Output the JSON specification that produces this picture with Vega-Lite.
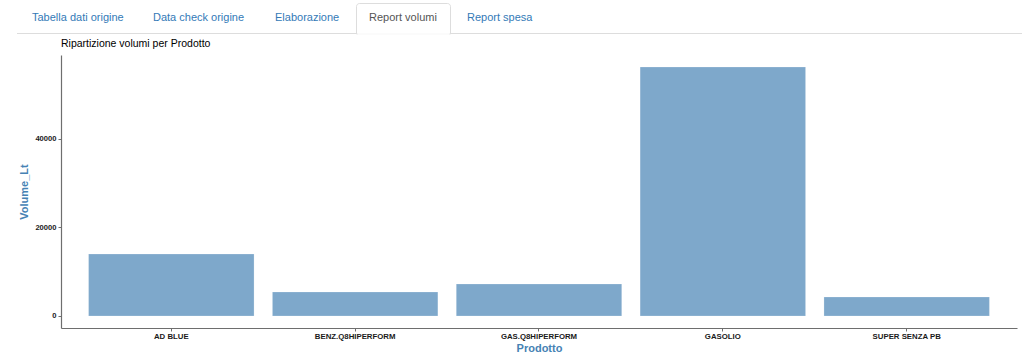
{
  "$schema": "https://vega.github.io/schema/vega-lite/v6.json",
  "autosize": {"type": "none"},
  "width": 956,
  "height": 273,
  "padding": {"left": 61, "top": 55, "right": 5, "bottom": 35},
  "background": "white",
  "config": {"view": {"stroke": null}, "font": "Liberation Sans"},
  "datasets": {
    "volumi": [
      {"Prodotto": "AD BLUE", "Volume_Lt": 14011},
      {"Prodotto": "BENZ.Q8HIPERFORM", "Volume_Lt": 5424},
      {"Prodotto": "GAS.Q8HIPERFORM", "Volume_Lt": 7232},
      {"Prodotto": "GASOLIO", "Volume_Lt": 56271},
      {"Prodotto": "SUPER SENZA PB", "Volume_Lt": 4294}
    ],
    "tabs": [
      {"tab": "Tabella dati origine", "px": 32, "active": false},
      {"tab": "Data check origine", "px": 153, "active": false},
      {"tab": "Elaborazione", "px": 275, "active": false},
      {"tab": "Report volumi", "px": 369, "active": true},
      {"tab": "Report spesa", "px": 467, "active": false}
    ],
    "titolo": [{"t": "Ripartizione volumi per Prodotto"}]
  },
  "resolve": {"scale": {"x": "independent", "y": "independent"}, "axis": {"x": "independent", "y": "independent"}},
  "layer": [
    {
      "data": {"name": "volumi"},
      "mark": {"type": "bar", "color": "#7ea8cb", "stroke": "#ffffff", "strokeOpacity": 0.35, "strokeWidth": 0.6},
      "encoding": {
        "x": {
          "field": "Prodotto", "type": "nominal", "sort": null,
          "scale": {"paddingInner": 0.1, "paddingOuter": 0.15},
          "axis": {"title": "Prodotto", "titleColor": "steelblue", "titleFontSize": 11, "titleFontWeight": "bold", "titleFont": "Liberation Sans", "titlePadding": 3,
                   "labelAngle": 0, "labelFontSize": 7.8, "labelFontWeight": "bold", "labelColor": "#1a1a1a", "labelFont": "Liberation Sans", "labelPadding": 1,
                   "domainColor": "#6e6e6e", "domainWidth": 1.2, "tickColor": "#6e6e6e", "tickSize": 3, "tickWidth": 1, "grid": false}
        },
        "y": {
          "field": "Volume_Lt", "type": "quantitative",
          "scale": {"domain": [-2712, 58983], "nice": false, "zero": false},
          "axis": {"title": "Volume_Lt", "titleColor": "steelblue", "titleFontSize": 11, "titleFontWeight": "bold", "titleFont": "Liberation Sans", "titlePadding": 5,
                   "values": [0, 20000, 40000], "format": "d", "labelFontSize": 7.6, "labelFontWeight": "bold", "labelColor": "#1a1a1a", "labelFont": "Liberation Sans", "labelPadding": 2,
                   "domainColor": "#6e6e6e", "domainWidth": 1.2, "tickColor": "#6e6e6e", "tickSize": 3, "tickWidth": 1, "grid": false}
        },
        "y2": {"datum": 0}
      }
    },
    {
      "data": {"values": [{}]},
      "mark": {"type": "rule", "color": "#dddddd", "strokeWidth": 1, "clip": false},
      "encoding": {
        "x": {"datum": 17, "type": "quantitative", "scale": {"domain": [61, 1017], "nice": false, "zero": false}, "axis": null},
        "x2": {"datum": 1022},
        "y": {"datum": 33.5, "type": "quantitative", "scale": {"domain": [55, 328], "reverse": true, "nice": false, "zero": false}, "axis": null}
      }
    },
    {
      "data": {"values": [{}]},
      "mark": {"type": "rect", "fill": "white", "stroke": "#dddddd", "strokeWidth": 1, "clip": false, "cornerRadiusTopLeft": 3, "cornerRadiusTopRight": 3},
      "encoding": {
        "x": {"datum": 356.5, "type": "quantitative", "scale": {"domain": [61, 1017], "nice": false, "zero": false}, "axis": null},
        "x2": {"datum": 450.5},
        "y": {"datum": 3.5, "type": "quantitative", "scale": {"domain": [55, 328], "reverse": true, "nice": false, "zero": false}, "axis": null},
        "y2": {"datum": 34}
      }
    },
    {
      "data": {"values": [{}]},
      "mark": {"type": "rule", "color": "white", "strokeWidth": 1.5, "clip": false},
      "encoding": {
        "x": {"datum": 357.5, "type": "quantitative", "scale": {"domain": [61, 1017], "nice": false, "zero": false}, "axis": null},
        "x2": {"datum": 449.5},
        "y": {"datum": 34, "type": "quantitative", "scale": {"domain": [55, 328], "reverse": true, "nice": false, "zero": false}, "axis": null}
      }
    },
    {
      "data": {"name": "tabs"},
      "mark": {"type": "text", "align": "left", "baseline": "middle", "fontSize": 11, "font": "Liberation Sans", "clip": false},
      "encoding": {
        "x": {"field": "px", "type": "quantitative", "scale": {"domain": [61, 1017], "nice": false, "zero": false}, "axis": null},
        "y": {"datum": 18, "type": "quantitative", "scale": {"domain": [55, 328], "reverse": true, "nice": false, "zero": false}, "axis": null},
        "text": {"field": "tab"},
        "color": {"condition": {"test": "datum.active", "value": "#555555"}, "value": "#337ab7"}
      }
    },
    {
      "data": {"name": "titolo"},
      "mark": {"type": "text", "align": "left", "baseline": "middle", "fontSize": 10.5, "font": "Liberation Sans", "color": "black", "clip": false},
      "encoding": {
        "x": {"datum": 61, "type": "quantitative", "scale": {"domain": [61, 1017], "nice": false, "zero": false}, "axis": null},
        "y": {"datum": 44, "type": "quantitative", "scale": {"domain": [55, 328], "reverse": true, "nice": false, "zero": false}, "axis": null},
        "text": {"field": "t"}
      }
    }
  ]
}
